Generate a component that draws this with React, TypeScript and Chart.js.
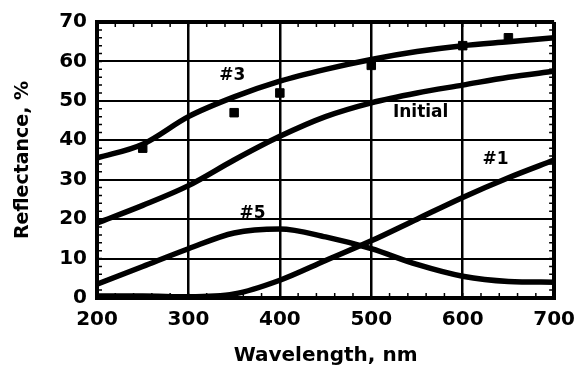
import React, { useEffect, useRef } from "react";
import { Chart, registerables } from "chart.js";
Chart.register(...registerables);

const wavelengths = [200, 250, 300, 350, 400, 450, 500, 550, 600, 650, 700];
const curve3 = [35.5, 39, 46, 51, 55, 58, 60.5, 62.5, 64, 65, 66];
const curveInitial = [19, 23.5, 28.5, 35, 41, 46, 49.5, 52, 54, 56, 57.5];
const curve5 = [3.5, 8, 12.5, 16.5, 17.5, 15.5, 12.5, 8.5, 5.5, 4.2, 4];
const curve1 = [0.5, 0.5, 0.3, 1, 4.5, 9.5, 14.5, 20, 25.5, 30.5, 35];
const markerX = [250, 350, 400, 500, 600, 650];
const markerY = [38, 47, 52, 59, 64, 66];
const labelText = ["#3", "Initial", "#5", "#1"];
const labelX = [348, 554, 370, 636];
const labelY = [56.5, 47, 21.5, 35];

const FONT = "'DejaVu Sans', Arial, sans-serif";

const toPts = (ys: number[]) => wavelengths.map((x, i) => ({ x, y: ys[i] }));

const lineDs = (label: string, ys: number[]) => ({
  type: "line" as const,
  label,
  data: toPts(ys),
  borderColor: "#000",
  borderWidth: 5.5,
  pointRadius: 0,
  fill: false,
  cubicInterpolationMode: "monotone" as const,
});

const labelPlugin = {
  id: "curveLabels",
  afterDatasetsDraw(chart: any) {
    const { ctx, scales } = chart;
    ctx.save();
    ctx.fillStyle = "#000";
    ctx.font = `bold 17px ${FONT}`;
    ctx.textAlign = "center";
    ctx.textBaseline = "middle";
    labelText.forEach((t, i) => {
      ctx.fillText(t, scales.x.getPixelForValue(labelX[i]), scales.y.getPixelForValue(labelY[i]));
    });
    ctx.restore();
  },
};

const minorTickPlugin = {
  id: "minorTicks",
  afterDraw(chart: any) {
    const { ctx, scales, chartArea } = chart;
    ctx.save();
    ctx.strokeStyle = "#000";
    ctx.lineWidth = 1.5;
    ctx.beginPath();
    for (let v = 220; v < 700; v += 20) {
      const px = scales.x.getPixelForValue(v);
      ctx.moveTo(px, chartArea.top);
      ctx.lineTo(px, chartArea.top + 5);
      ctx.moveTo(px, chartArea.bottom);
      ctx.lineTo(px, chartArea.bottom - 5);
    }
    for (let v = 2; v < 70; v += 2) {
      const py = scales.y.getPixelForValue(v);
      ctx.moveTo(chartArea.left, py);
      ctx.lineTo(chartArea.left + 5, py);
      ctx.moveTo(chartArea.right, py);
      ctx.lineTo(chartArea.right - 5, py);
    }
    ctx.stroke();
    ctx.restore();
  },
};

export default function App() {
  const ref = useRef<HTMLCanvasElement>(null);
  useEffect(() => {
    const canvas = ref.current!;
    const chart = new Chart(canvas, {
      type: "line",
      data: {
        datasets: [
          lineDs("#3", curve3),
          lineDs("Initial", curveInitial),
          lineDs("#5", curve5),
          lineDs("#1", curve1),
          {
            type: "scatter" as const,
            label: "#3 measured",
            data: markerX.map((x, i) => ({ x, y: markerY[i] })),
            pointStyle: "rect",
            pointRadius: 6,
            backgroundColor: "#000",
            borderColor: "#000",
            showLine: false,
          } as any,
        ],
      },
      options: {
        responsive: false,
        animation: false,
        layout: { padding: { left: 0, right: 30, top: 18, bottom: 0 } },
        plugins: { legend: { display: false }, tooltip: { enabled: false } },
        scales: {
          x: {
            type: "linear",
            min: 200,
            max: 700,
            ticks: { stepSize: 100, color: "#000", padding: 10, font: { family: FONT, size: 20, weight: "bold" } },
            grid: {
              color: "#000",
              lineWidth: (c: any) => (c.tick && (c.tick.value === 200 || c.tick.value === 700) ? 4 : 2.5),
              drawTicks: false,
            },
            border: { color: "#000", width: 4 },
            title: {
              display: true,
              text: "Wavelength, nm",
              color: "#000",
              font: { family: FONT, size: 20, weight: "bold" },
              padding: { top: 2, bottom: 2 },
            },
            afterFit: (s: any) => {
              s.height = 72;
            },
          },
          y: {
            min: 0,
            max: 70,
            ticks: { stepSize: 10, color: "#000", padding: 10, font: { family: FONT, size: 20, weight: "bold" } },
            grid: {
              color: "#000",
              lineWidth: (c: any) => (c.tick && (c.tick.value === 0 || c.tick.value === 70) ? 4 : 2),
              drawTicks: false,
            },
            border: { color: "#000", width: 4 },
            title: {
              display: true,
              text: "Reflectance, %",
              color: "#000",
              font: { family: FONT, size: 19, weight: "bold" },
              padding: { top: 12, bottom: 4 },
            },
            afterFit: (s: any) => {
              s.width = 97;
            },
          },
        },
      } as any,
      plugins: [labelPlugin, minorTickPlugin],
    });
    return () => chart.destroy();
  }, []);
  return (
    <div style={{ position: "absolute", left: 0, top: 0, width: 585, height: 370, background: "#fff" }}>
      <canvas ref={ref} width={585} height={370} style={{ display: "block", width: 585, height: 370 }} />
    </div>
  );
}
